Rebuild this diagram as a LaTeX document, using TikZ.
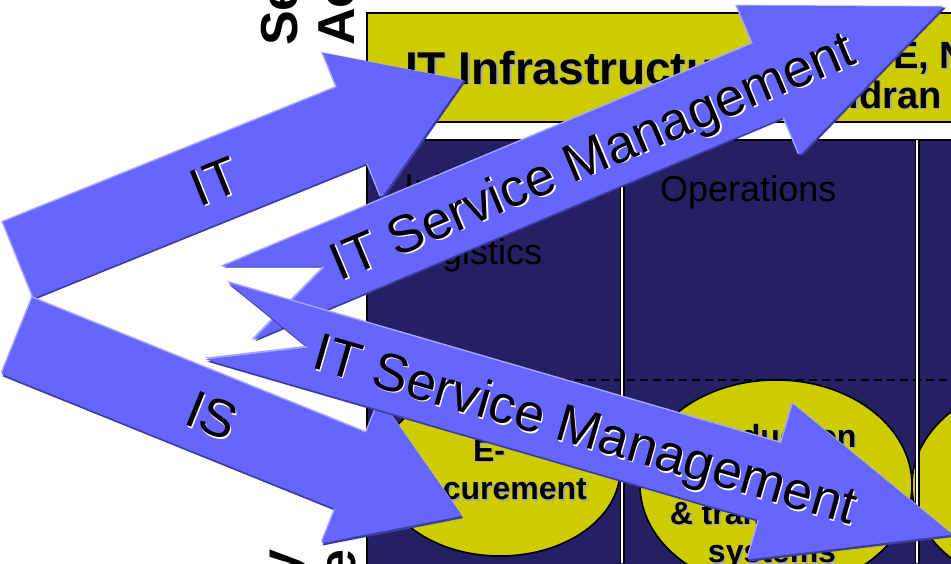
\documentclass[tikz,border=0pt]{standalone}
\usepackage{fontspec}
\setmainfont{Liberation Sans}

\definecolor{boxyellow}{RGB}{204,204,0}
\definecolor{chainnavy}{RGB}{36,32,99}
\definecolor{arrowblue}{RGB}{102,102,255}
\definecolor{arrowlight}{RGB}{165,165,255}
\definecolor{arrowdark}{RGB}{60,60,165}

% text with an offset copy behind it
\newcommand{\shtext}[2]{\rlap{\raisebox{-1.5pt}{\hspace{1.5pt}\textcolor{#1}{#2}}}#2}
% arrow outlines, measured from the middle of the tail along the x axis
\newcommand{\plainarrow}{(0,-41) -- (360,-41) -- (360,-78) -- (480,0) -- (360,78) -- (360,41) -- (0,41) -- cycle}
\newcommand{\notchedarrow}{(0,-40) -- (576,-40) -- (576,-81) -- (766,0) -- (576,81) -- (576,40) -- (0,40) -- (95,0) -- cycle}
\newcommand{\bevelarrow}[1]{%
	\fill[arrowdark, shift={(1.8,1.8)}] #1;
	\fill[arrowlight, shift={(-1.5,-1.5)}] #1;
	\fill[arrowblue] #1;}

\begin{document}
\begin{tikzpicture}[x=1pt, y=-1pt]
	\tikzstyle{arrowlabel} = [font=\fontsize{53}{60}\selectfont, anchor=base, inner sep=0pt, transform shape]
	\tikzstyle{boxlabel}   = [font=\bfseries\fontsize{46}{52}\selectfont, anchor=base west, inner sep=0pt]
	\tikzstyle{hrlabel}    = [font=\bfseries\fontsize{38}{44}\selectfont, anchor=base west, inner sep=0pt]
	\tikzstyle{sidelabel}  = [font=\bfseries\fontsize{52}{58}\selectfont, rotate=90, inner sep=0pt]
	\tikzstyle{steplabel}  = [font=\fontsize{36}{42}\selectfont, anchor=base west, inner sep=0pt]
	\tikzstyle{ovallabel}  = [font=\bfseries\fontsize{32}{38.5}\selectfont, align=center, anchor=north, inner sep=0pt]
	\tikzstyle{oval}       = [fill=boxyellow, draw=black, line width=1.6pt]

	\useasboundingbox (0,0) rectangle (951,563);
	\clip (0,0) rectangle (951,563);
	\fill[white] (0,0) rectangle (951,563);

	% support activities
	\filldraw[fill=boxyellow, draw=black, line width=1.6pt] (367,13) rectangle (970,122);
	\node[boxlabel] (infra) at (405,84) {\shtext{gray!70}{IT Infrastructure}};
	\node[hrlabel] (hrtop) at (893,68) {\shtext{gray!70}{E, N}};
	\node[hrlabel] (hrbot) at (838,108) {\shtext{gray!70}{ildran}};

	% primary activities
	\filldraw[fill=chainnavy, draw=black, line width=1.6pt] (367,140) rectangle (970,580);
	\draw[black, line width=1.6pt, dash pattern=on 8pt off 5pt] (367,380) -- (951,380);

	\filldraw[oval] (500,470) ellipse [x radius=120, y radius=86];
	\filldraw[oval] (776,485) ellipse [x radius=136, y radius=105];
	\filldraw[oval] (1050,485) ellipse [x radius=138, y radius=105];

	\foreach \x in {622, 917}{
		\draw[black, line width=5pt] (\x,140) -- (\x,563);
		\draw[white, line width=2.2pt] (\x,140) -- (\x,563);
	}

	\node[steplabel] (inb1) at (404,199) {Inbound};
	\node[steplabel] (inb2) at (414,264) {logistics};
	\node[steplabel] (ops) at (660,201) {Operations};

	\node[ovallabel] (eproc) at (489,439) {\shtext{gray!70}{E-}\\\shtext{gray!70}{procurement}};
	\node[ovallabel] (prod) at (772,424) {\shtext{gray!70}{Production}\\\mbox{}\\\shtext{gray!70}{\& transaction}\\\shtext{gray!70}{systems}};

	% side labels
	\node[sidelabel, anchor=base west] (sideA) at (297,46) {Secondary};
	\node[sidelabel, anchor=base west] (sideB) at (354,46) {Activities};
	\node[sidelabel, anchor=base east] (sideC) at (297,549) {Primary};
	\node[sidelabel, anchor=base east] (sideD) at (355,549) {Value};

	% IT and IS arrows
	\foreach \x/\y/\ang/\lbl in {18.5/260/22/IT, 17/336/-22/IS}{
		\begin{scope}[shift={(\x,\y)}, rotate=\ang]
			\bevelarrow{\plainarrow}
			\node[arrowlabel] (arrow\lbl) at (211,19) {\shtext{white}{\lbl}};
		\end{scope}
	}

	% service management arrows
	\foreach \x/\y/\ang/\nm in {237.5/303.5/22.8/up, 217/321/-16.2/down}{
		\begin{scope}[shift={(\x,\y)}, rotate=\ang]
			\bevelarrow{\notchedarrow}
			\node[arrowlabel] (itsm\nm) at (384,19) {\shtext{white}{IT Service Management}};
		\end{scope}
	}

\end{tikzpicture}
\end{document}
